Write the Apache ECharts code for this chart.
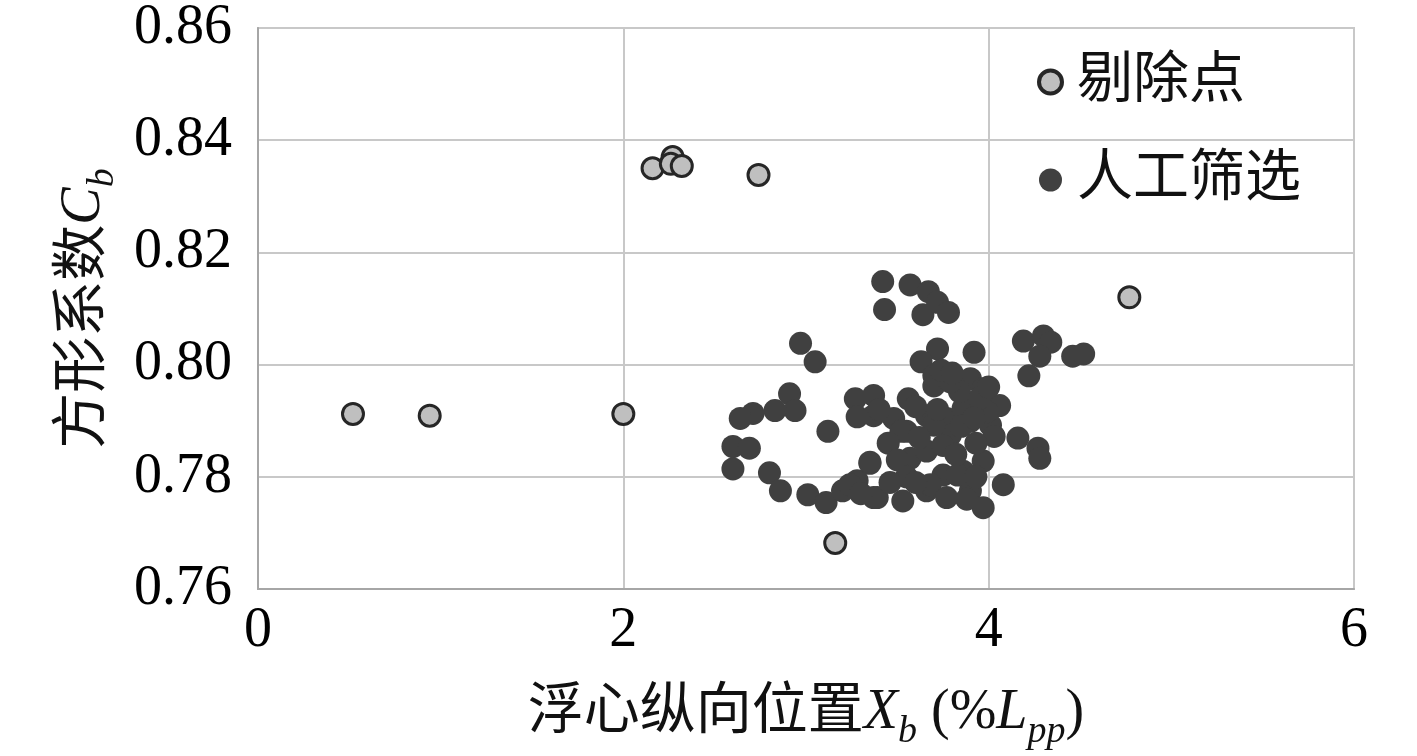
<!DOCTYPE html>
<html>
<head>
<meta charset="utf-8">
<script src="https://cdn.jsdelivr.net/npm/echarts@6/dist/echarts.min.js"></script>
<style>html,body{margin:0;padding:0;background:#fff;}#c{width:1417px;height:756px;}</style>
</head>
<body>
<div id="c"></div>
<script>
// Removed points (剔除点): [Xb, Cb]
const removedPoints = [
  [0.52, 0.7912], [0.94, 0.7909], [2.00, 0.7912],
  [2.16, 0.8350], [2.27, 0.8370], [2.26, 0.8358], [2.32, 0.8354],
  [2.74, 0.8338], [3.16, 0.7682], [4.77, 0.8120]
];
// Manually screened points (人工筛选): [Xb, Cb]
const screenedPoints = [
  [3.42, 0.8148], [3.43, 0.8098], [3.57, 0.8142], [3.67, 0.8130], [3.64, 0.8089],
  [3.72, 0.8111], [3.78, 0.8093], [2.97, 0.8038], [3.05, 0.8005], [2.91, 0.7948],
  [2.94, 0.7918], [2.83, 0.7918], [2.71, 0.7913], [2.64, 0.7904], [3.12, 0.7881],
  [2.60, 0.7854], [2.69, 0.7851], [2.60, 0.7814], [2.80, 0.7807], [2.86, 0.7775],
  [3.01, 0.7768], [3.11, 0.7754], [3.20, 0.7775], [3.28, 0.7793], [3.35, 0.7824],
  [3.37, 0.7763], [3.27, 0.7939], [3.28, 0.7907], [3.37, 0.7945], [3.37, 0.7909],
  [3.72, 0.8028], [3.63, 0.8005], [3.92, 0.8022], [3.70, 0.7962], [3.70, 0.7980],
  [3.90, 0.7975], [3.97, 0.7957], [4.06, 0.7927], [4.01, 0.7892], [4.03, 0.7872],
  [4.16, 0.7869], [4.27, 0.7851], [4.28, 0.7833], [4.19, 0.8042], [4.30, 0.8051],
  [4.34, 0.8040], [4.28, 0.8015], [4.22, 0.7980], [4.46, 0.8015], [4.52, 0.8019],
  [3.48, 0.7904], [3.56, 0.7939], [3.55, 0.7881], [3.66, 0.7909], [3.77, 0.7904],
  [3.79, 0.7874], [3.86, 0.7922], [3.90, 0.7899], [3.99, 0.7916], [3.57, 0.7833],
  [3.66, 0.7846], [3.75, 0.7856], [3.35, 0.7826], [3.39, 0.7763], [3.53, 0.7757],
  [3.66, 0.7775], [3.75, 0.7803], [3.86, 0.7810], [3.97, 0.7828], [3.90, 0.7775],
  [3.97, 0.7745], [4.08, 0.7786], [3.84, 0.7952], [3.79, 0.7969], [3.52, 0.7881],
  [3.70, 0.7892], [3.68, 0.7786], [3.83, 0.7803], [3.77, 0.7763], [3.24, 0.7786],
  [3.74, 0.7990], [3.80, 0.7985], [3.60, 0.7925], [3.62, 0.7870], [3.45, 0.7860],
  [3.50, 0.7830], [3.55, 0.7800], [3.60, 0.7790], [3.85, 0.7890], [3.93, 0.7860],
  [3.95, 0.7940], [3.82, 0.7840], [3.88, 0.7760], [3.93, 0.7800], [3.40, 0.7920],
  [3.46, 0.7790], [3.30, 0.7770], [3.72, 0.7920], [3.92, 0.7905], [4.00, 0.7960]
];
const xTicks = [0, 2, 4, 6];
const yTicks = ['0.76', '0.78', '0.80', '0.82', '0.84', '0.86'];
const seriesNames = ['剔除点', '人工筛选'];

const FONT = "'Liberation Serif', 'Noto Sans CJK SC', serif";
const chart = echarts.init(document.getElementById('c'));
chart.setOption({
  backgroundColor: '#ffffff',
  animation: false,
  grid: { left: 258, right: 63, top: 26, bottom: 164, show: true, borderColor: '#c8c8c8', borderWidth: 2 },
  legend: {
    data: [
      { name: seriesNames[0], itemStyle: { color: '#bfbfbf', borderColor: '#262626', borderWidth: 4 } },
      { name: seriesNames[1] }
    ],
    orient: 'vertical',
    left: 1037, top: 54, padding: 0,
    itemWidth: 23, itemHeight: 23, itemGap: 42, itemTextGap: 18,
    textStyle: { fontFamily: FONT, fontSize: 56, color: '#111', lineHeight: 56, padding: [0, 0, 0, 10] }
  },
  xAxis: {
    type: 'value', min: xTicks[0], max: xTicks[xTicks.length - 1], interval: 2,
    axisLine: { show: true, lineStyle: { color: '#a6a6a6', width: 2 } },
    axisTick: { show: false },
    splitLine: { show: true, lineStyle: { color: '#c8c8c8', width: 2 } },
    axisLabel: { fontFamily: FONT, fontSize: 56, color: '#000', margin: 14 },
    name: '{a|浮心纵向位置}{i|X}{s|b}{a| (%}{i|L}{s|pp}{a|)}',
    nameLocation: 'middle', nameGap: 92,
    nameTextStyle: {
      rich: {
        a: { fontFamily: FONT, fontSize: 56, color: '#111', lineHeight: 60, verticalAlign: 'bottom' },
        i: { fontFamily: FONT, fontSize: 56, fontStyle: 'italic', color: '#111', lineHeight: 60, verticalAlign: 'bottom' },
        s: { fontFamily: FONT, fontSize: 38, fontStyle: 'italic', color: '#111', lineHeight: 38, verticalAlign: 'bottom', padding: [0, 0, -10, 0] }
      }
    }
  },
  yAxis: {
    type: 'value', min: 0.76, max: 0.86, interval: 0.02,
    axisLine: { show: true, lineStyle: { color: '#a6a6a6', width: 2 } },
    axisTick: { show: false },
    splitLine: { show: true, lineStyle: { color: '#c8c8c8', width: 2 } },
    axisLabel: {
      fontFamily: FONT, fontSize: 56, color: '#000', margin: 26,
      formatter: function (v) { return yTicks[Math.round((v - 0.76) / 0.02)]; }
    },
    name: '{a|方形系数}{i|C}{s|b}',
    nameLocation: 'middle', nameGap: 146,
    nameTextStyle: {
      rich: {
        a: { fontFamily: FONT, fontSize: 56, color: '#111', lineHeight: 60, verticalAlign: 'bottom' },
        i: { fontFamily: FONT, fontSize: 56, fontStyle: 'italic', color: '#111', lineHeight: 60, verticalAlign: 'bottom' },
        s: { fontFamily: FONT, fontSize: 38, fontStyle: 'italic', color: '#111', lineHeight: 38, verticalAlign: 'bottom', padding: [0, 0, -10, 0] }
      }
    }
  },
  series: [
    {
      name: seriesNames[1], type: 'scatter', data: screenedPoints, symbolSize: 23,
      itemStyle: { color: '#404040', opacity: 1 }, z: 2
    },
    {
      name: seriesNames[0], type: 'scatter', data: removedPoints, symbolSize: 21,
      itemStyle: { color: '#bfbfbf', borderColor: '#262626', borderWidth: 3, opacity: 1 }, z: 3
    }
  ]
});
</script>
</body>
</html>
